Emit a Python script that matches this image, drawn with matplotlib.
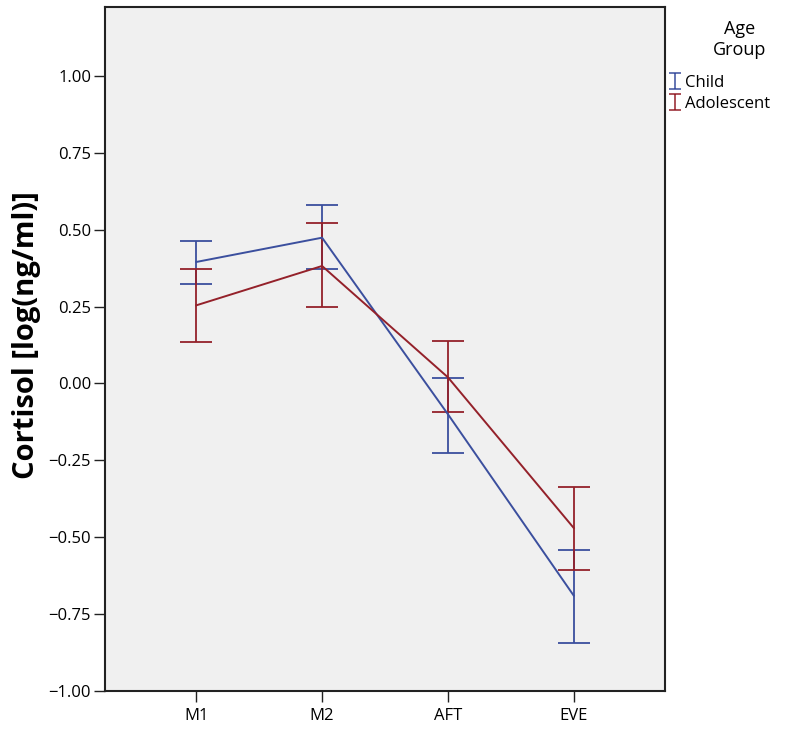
import matplotlib

matplotlib.use("Agg")
import matplotlib.pyplot as plt
from matplotlib.lines import Line2D
from matplotlib.path import Path
import numpy as np

plt.rcParams["font.family"] = ["Open Sans", "DejaVu Sans"]

# sampling times and group estimates (log ng/ml) with CI bounds
times = ["M1", "M2", "AFT", "EVE"]
groups = ["Child", "Adolescent"]
child_mean = [0.395, 0.474, -0.10, -0.69]
child_lo = [0.324, 0.372, -0.225, -0.843]
child_hi = [0.464, 0.580, 0.019, -0.541]
adol_mean = [0.254, 0.382, 0.020, -0.47]
adol_lo = [0.135, 0.250, -0.093, -0.607]
adol_hi = [0.372, 0.521, 0.138, -0.338]
y_ticks = [-1.0, -0.75, -0.5, -0.25, 0.0, 0.25, 0.5, 0.75, 1.0]

colors = {"Child": "#3b4f9e", "Adolescent": "#94212a"}
series = {
    "Child": (child_mean, child_lo, child_hi),
    "Adolescent": (adol_mean, adol_lo, adol_hi),
}

fig = plt.figure(figsize=(8, 7.31), dpi=100)
ax = fig.add_axes([0.13125, 0.0547, 0.70, 0.9357])
ax.set_facecolor("#f0f0f0")

x = np.arange(len(times))
for name in groups:
    mean, lo, hi = (np.array(v) for v in series[name])
    ax.plot(x, mean, color=colors[name], lw=1.4, zorder=3)
    ax.errorbar(x, mean, yerr=[mean - lo, hi - mean], fmt="none",
                ecolor=colors[name], elinewidth=1.3, capsize=11.2,
                capthick=1.3, zorder=2)

ax.set_xlim(-0.725, len(times) - 1 + 0.725)
ax.set_ylim(-1.0, 1.224)
ax.set_xticks(x)
ax.set_xticklabels(times, fontsize=12)
ax.set_yticks(y_ticks)
ax.set_yticklabels([f"{v:.2f}".replace("-", "\u2212") for v in y_ticks], fontsize=12)
ax.tick_params(axis="y", length=8, width=1, color="#222222", pad=2)
ax.tick_params(axis="x", length=8, width=1, color="#222222", pad=4)
for sp in ax.spines.values():
    sp.set_color("#222222")
    sp.set_linewidth(1.5)

ax.set_ylabel("Cortisol [log(ng/ml)]", fontsize=21, fontweight="bold")
ax.yaxis.set_label_coords(-0.115, 0.52)

# small "I" shaped legend glyph like an error bar
i_mark = Path([(-0.35, -0.5), (0.35, -0.5), (0, -0.5), (0, 0.5), (-0.35, 0.5), (0.35, 0.5)],
              [Path.MOVETO, Path.LINETO, Path.MOVETO, Path.LINETO, Path.MOVETO, Path.LINETO])
handles = [Line2D([], [], ls="none", marker=i_mark, markersize=12, markerfacecolor="none",
                  markeredgewidth=1.1, color=colors[g]) for g in groups]
leg = fig.legend(handles, groups, loc="upper left", bbox_to_anchor=(0.838, 0.897),
                 frameon=False, fontsize=12, handlelength=0.5, handletextpad=0.35,
                 labelspacing=0.3, borderaxespad=0, borderpad=0)
fig.text(0.925, 0.972, "Age\nGroup", ha="center", va="top", fontsize=13,
         linespacing=1.2)

fig.savefig("out.png", dpi=100)
